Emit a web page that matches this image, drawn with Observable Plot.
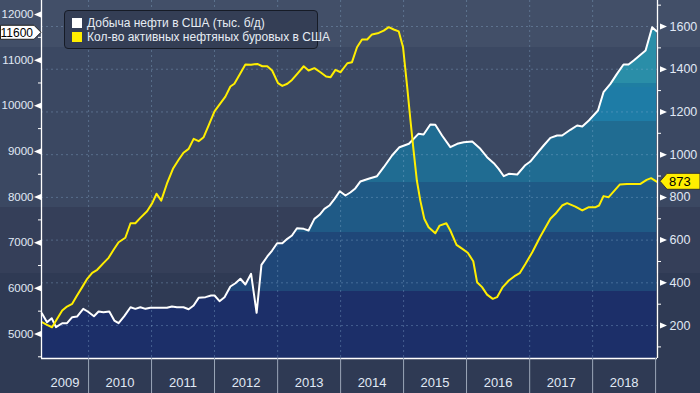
<!DOCTYPE html>
<html>
<head>
<meta charset="utf-8">
<script src="https://cdn.jsdelivr.net/npm/d3@7"></script>
<script src="https://cdn.jsdelivr.net/npm/@observablehq/plot@0.6"></script>
<style>
html,body{margin:0;padding:0;}
body{width:700px;height:393px;overflow:hidden;
background:linear-gradient(to bottom,#424f68 0px,#424f68 47px,#3b4862 47px,#3b4862 207px,#353f59 207px,#353f59 273px,#2f3a54 273px,#2f3a54 100%);
font-family:"Liberation Sans",Arial,sans-serif;}
#wrap{position:relative;width:700px;height:393px;}
#legend{position:absolute;left:64px;top:10px;width:252px;height:37px;border:1px solid #161b26;border-radius:4px;background:#343e55;color:#e6ecf3;font-size:12px;}
.item{position:absolute;left:7px;display:flex;align-items:center;white-space:nowrap;height:10px;}
.sw{width:10px;height:10px;margin-right:5px;flex:none;}
</style>
</head>
<body>
<div id="wrap">
<div id="legend">
  <div class="item" style="top:7px"><span class="sw" style="background:#ffffff"></span><span id="l1"></span></div>
  <div class="item" style="top:21px"><span class="sw" style="background:#ffee00"></span><span id="l2"></span></div>
</div>
</div>
<script>
// ---- Data ----
const seriesNames = ["Добыча нефти в США (тыс. б/д)", "Кол-во активных нефтяных буровых в США"];

const prodDates = ["2009-04-05","2009-05-05","2009-06-01","2009-06-26","2009-08-01","2009-08-29","2009-09-28","2009-10-26","2009-12-01","2009-12-27",
"2010-02-01","2010-02-28","2010-03-28","2010-05-01","2010-05-30","2010-06-24","2010-07-27","2010-09-01","2010-09-29","2010-10-28","2010-11-27","2010-12-25",
"2011-01-24","2011-03-02","2011-03-31","2011-04-29","2011-05-28","2011-07-05","2011-08-04","2011-09-02","2011-10-01","2011-11-10","2011-12-12",
"2012-01-01","2012-01-30","2012-02-28","2012-04-02","2012-05-01","2012-05-30","2012-06-28","2012-07-31","2012-09-01","2012-09-29","2012-11-02","2012-11-30","2012-12-29",
"2013-01-28","2013-02-26","2013-03-25","2013-04-23","2013-06-01","2013-06-29","2013-08-02","2013-09-01","2013-09-29","2013-10-28","2013-11-27","2013-12-27",
"2014-01-29","2014-02-26","2014-03-27","2014-04-25","2014-06-12","2014-07-31","2014-09-08","2014-10-26","2014-12-08",
"2015-02-01","2015-03-28","2015-04-27","2015-06-05","2015-07-04","2015-08-12","2015-09-29","2015-11-08","2015-12-16",
"2016-02-03","2016-03-21","2016-04-29","2016-06-07","2016-07-05","2016-08-04","2016-09-02","2016-10-21","2016-12-04",
"2017-01-07","2017-02-14","2017-03-23","2017-05-01","2017-06-09","2017-07-08","2017-08-25","2017-10-03","2017-11-02","2017-12-10",
"2018-02-01","2018-03-05","2018-04-14","2018-05-22","2018-06-29","2018-07-28","2018-08-27","2018-11-04","2018-12-12","2019-01-07"];
const prodValues = [5455,5258,5346,5149,5236,5236,5368,5383,5551,5493,
5390,5493,5478,5493,5295,5236,5390,5587,5551,5587,5551,5573,
5573,5573,5573,5602,5587,5587,5543,5624,5792,5807,5843,
5843,5719,5807,6040,6112,6210,6084,6319,5464,6516,6698,6829,6989,
6989,7085,7158,7318,7304,7267,7523,7611,7742,7815,7961,8128,
8034,8100,8190,8340,8400,8457,8654,8911,9093,
9167,9386,9371,9590,9583,9349,9093,9167,9203,
9217,9057,8874,8742,8619,8457,8510,8495,8691,
8786,8961,9130,9298,9349,9349,9474,9568,9546,9678,
9897,10298,10481,10700,10904,10904,10992,11211,11722,11634];

const rigDates = ["2009-04-05","2009-05-05","2009-06-03","2009-07-02","2009-08-01","2009-08-29","2009-09-28","2009-10-26","2009-11-25","2009-12-24",
"2010-01-22","2010-02-20","2010-03-28","2010-04-27","2010-05-26","2010-06-24","2010-08-02","2010-09-01","2010-09-29","2010-10-28","2010-12-06",
"2011-01-05","2011-01-30","2011-02-26","2011-03-31","2011-05-05","2011-06-07","2011-07-05","2011-08-04","2011-09-02","2011-10-01","2011-10-30","2011-11-28",
"2012-01-01","2012-02-05","2012-03-04","2012-04-02","2012-04-25","2012-05-30","2012-06-28","2012-07-31","2012-09-05","2012-10-04","2012-11-02","2012-11-30",
"2013-01-03","2013-01-28","2013-02-26","2013-03-25","2013-04-27","2013-06-01","2013-06-29","2013-08-02","2013-09-06","2013-10-09","2013-11-04","2013-12-02",
"2014-01-01","2014-02-09","2014-03-08","2014-04-06","2014-05-05","2014-06-04","2014-07-02","2014-08-10","2014-09-08","2014-10-07","2014-11-05","2014-12-04","2014-12-29",
"2015-01-22","2015-02-10","2015-02-28","2015-03-19","2015-04-08","2015-05-01","2015-05-26","2015-07-04","2015-07-29","2015-09-06","2015-09-29","2015-11-04","2015-12-06",
"2016-01-08","2016-02-09","2016-03-02","2016-03-31","2016-04-29","2016-06-01","2016-06-26","2016-07-29","2016-09-02","2016-10-05","2016-11-04","2016-12-08",
"2017-01-16","2017-03-04","2017-05-01","2017-05-30","2017-07-08","2017-08-06","2017-09-23","2017-11-02","2017-12-10",
"2018-01-18","2018-02-07","2018-03-05","2018-04-04","2018-06-07","2018-07-19","2018-08-27","2018-10-05","2018-11-10","2018-12-06","2019-01-07"];
const rigValues = [216,203,192,231,270,289,302,341,380,419,
447,461,492,517,555,590,611,679,679,704,735,
773,817,785,864,934,976,1009,1027,1074,1063,1082,1137,
1203,1241,1272,1319,1332,1381,1422,1421,1425,1414,1414,1394,
1335,1322,1332,1350,1381,1414,1394,1405,1386,1366,1363,1397,
1386,1428,1433,1503,1539,1539,1563,1570,1581,1597,1586,1577,1503,
1316,1160,1019,879,785,700,660,632,668,679,645,578,560,
541,501,403,380,345,325,333,380,411,431,445,489,
543,617,700,723,762,773,757,739,754,
754,762,806,801,860,863,863,863,882,890,874];

const leftTicks = [5000,6000,7000,8000,9000,10000,11000,12000];
const leftMinor = [4500,5500,6500,7500,8500,9500,10500,11500];
const rightTicks = [200,400,600,800,1000,1200,1400,1600];
const rightMinor = [100,300,500,700,900,1100,1300,1500,1700];
const yearLabels = ["2009","2010","2011","2012","2013","2014","2015","2016","2017","2018"];
const lastProdLabel = 11600;
const lastRigLabel = 873;

// ---- Setup ----
const W = 700, H = 393;
const xStart = new Date("2009-04-03"), xEnd = new Date("2019-01-12");
const yMin = 4463, yMax = 12307;
// rig count -> production-axis units (secondary axis)
const toProd = r => 4249 + 4.68 * r;
const toRig = v => (v - 4249) / 4.68;

const prod = prodDates.map((d, i) => ({date: new Date(d), value: prodValues[i]}));
const rigs = rigDates.map((d, i) => ({date: new Date(d), value: toProd(rigValues[i])}));

const yearStarts = d3.range(2010, 2020).map(y => new Date(Date.UTC(y, 0, 1)));
const yearMids = yearLabels.map(s => {
  const y = +s;
  const a = Math.max(+new Date(Date.UTC(y, 0, 1)), +xStart);
  const b = Math.min(+new Date(Date.UTC(y + 1, 0, 1)), +xEnd);
  return new Date((a + b) / 2);
});

const triLeft = {draw(ctx){ctx.moveTo(-3.5,0);ctx.lineTo(3.5,-3);ctx.lineTo(3.5,3);ctx.closePath();}};
const triRight = {draw(ctx){ctx.moveTo(3.5,0);ctx.lineTo(-3.5,-3);ctx.lineTo(-3.5,3);ctx.closePath();}};
const tickColor = "#e0e9f5";
const gridStyle = {stroke: "#8fb4d8", strokeOpacity: 0.35, strokeDasharray: "2,3", strokeWidth: 1};

const chart = Plot.plot({
  width: W, height: H,
  marginLeft: 41, marginRight: 43, marginTop: 0, marginBottom: 35,
  style: {background: "transparent", color: tickColor, fontFamily: "'Liberation Sans', Arial, sans-serif", overflow: "visible"},
  x: {type: "utc", domain: [xStart, xEnd]},
  y: {domain: [yMin, yMax]},
  marks: [
    Plot.areaY(prod, {x: "date", y1: yMin, y2: "value", fill: "url(#bands)", curve: "linear"}),
    Plot.ruleY(rightTicks.map(toProd), gridStyle),
    Plot.ruleX(yearStarts.slice(0, 9), gridStyle),
    Plot.lineY(prod, {x: "date", y: "value", stroke: "#ffffff", strokeWidth: 2}),
    Plot.lineY(rigs, {x: "date", y: "value", stroke: "#ffee00", strokeWidth: 2}),
    Plot.ruleX([xStart, xEnd], {stroke: "#ffffff", strokeWidth: 1.3}),
    Plot.ruleY([yMin], {stroke: "#ffffff", strokeWidth: 1.3}),
    // left axis
    Plot.axisY(leftTicks, {anchor: "left", tickSize: 0, tickPadding: 8, fontSize: 11.5, color: tickColor, tickFormat: d => String(d), label: null}),
    Plot.axisY(leftMinor, {anchor: "left", tickSize: 3, tickFormat: () => "", color: "#ffffff", label: null}),
    Plot.dot(leftTicks, {y: d => d, frameAnchor: "left", dx: -4, symbol: triLeft, fill: "#ffffff", r: 3}),
    // right axis
    Plot.axisY(rightTicks.map(toProd), {anchor: "right", tickSize: 0, tickPadding: 12, fontSize: 12.5, color: tickColor, tickFormat: v => String(Math.round(toRig(v))), label: null}),
    Plot.axisY(rightMinor.map(toProd), {anchor: "right", tickSize: 3, tickFormat: () => "", color: "#ffffff", label: null}),
    Plot.dot(rightTicks.map(toProd), {y: d => d, frameAnchor: "right", dx: 6, symbol: triRight, fill: "#ffffff", r: 3}),
    // bottom axis
    Plot.axisX(yearStarts, {anchor: "bottom", tickSize: 35, tickFormat: () => "", color: "#9ba6b8", label: null}),
    Plot.axisX(yearMids, {anchor: "bottom", tickSize: 0, tickPadding: 19, fontSize: 13, color: tickColor, tickFormat: (d, i) => yearLabels[i], label: null})
  ]
});

// banded fill gradient, positioned with the y scale
const ys = chart.scale("y");
const bands = [
  {lo: 10488, color: "#2a8ea8"},
  {lo: 10400, color: "#1f7ea2"},
  {lo: 9656, color: "#1e7ca6"},
  {lo: 8319, color: "#206c92"},
  {lo: 7223, color: "#1f5a86"},
  {lo: 5931, color: "#1f4778"},
  {lo: yMin, color: "#1c2f69"}
];
const svg = d3.select(chart);
const grad = svg.insert("defs", ":first-child").append("linearGradient")
  .attr("id", "bands").attr("gradientUnits", "userSpaceOnUse")
  .attr("x1", 0).attr("x2", 0).attr("y1", 0).attr("y2", H);
let prevY = 0;
bands.forEach(b => {
  const yb = ys.apply(b.lo);
  grad.append("stop").attr("offset", prevY / H).attr("stop-color", b.color);
  grad.append("stop").attr("offset", yb / H).attr("stop-color", b.color);
  prevY = yb;
});

// value tags
const yl = ys.apply(lastProdLabel);
svg.append("path").attr("d", `M0.5,${yl - 7}H34L41,${yl}L34,${yl + 7}H0.5Z`).attr("fill", "#ffffff").attr("stroke", "#222");
svg.append("text").attr("x", 33).attr("y", yl).attr("dy", "0.36em").attr("text-anchor", "end")
  .attr("font-size", 12).attr("fill", "#000").text(String(lastProdLabel));
const yr = ys.apply(toProd(lastRigLabel));
svg.append("path").attr("d", `M660,${yr}L667,${yr - 8}H700V${yr + 8}H667Z`).attr("fill", "#ffee00").attr("stroke", "#333");
svg.append("text").attr("x", 669).attr("y", yr).attr("dy", "0.36em").attr("text-anchor", "start")
  .attr("font-size", 13).attr("fill", "#000").text(String(lastRigLabel));

document.getElementById("wrap").prepend(chart);
chart.style.position = "absolute"; chart.style.left = "0"; chart.style.top = "0";
document.getElementById("l1").textContent = seriesNames[0];
document.getElementById("l2").textContent = seriesNames[1];
</script>
</body>
</html>
